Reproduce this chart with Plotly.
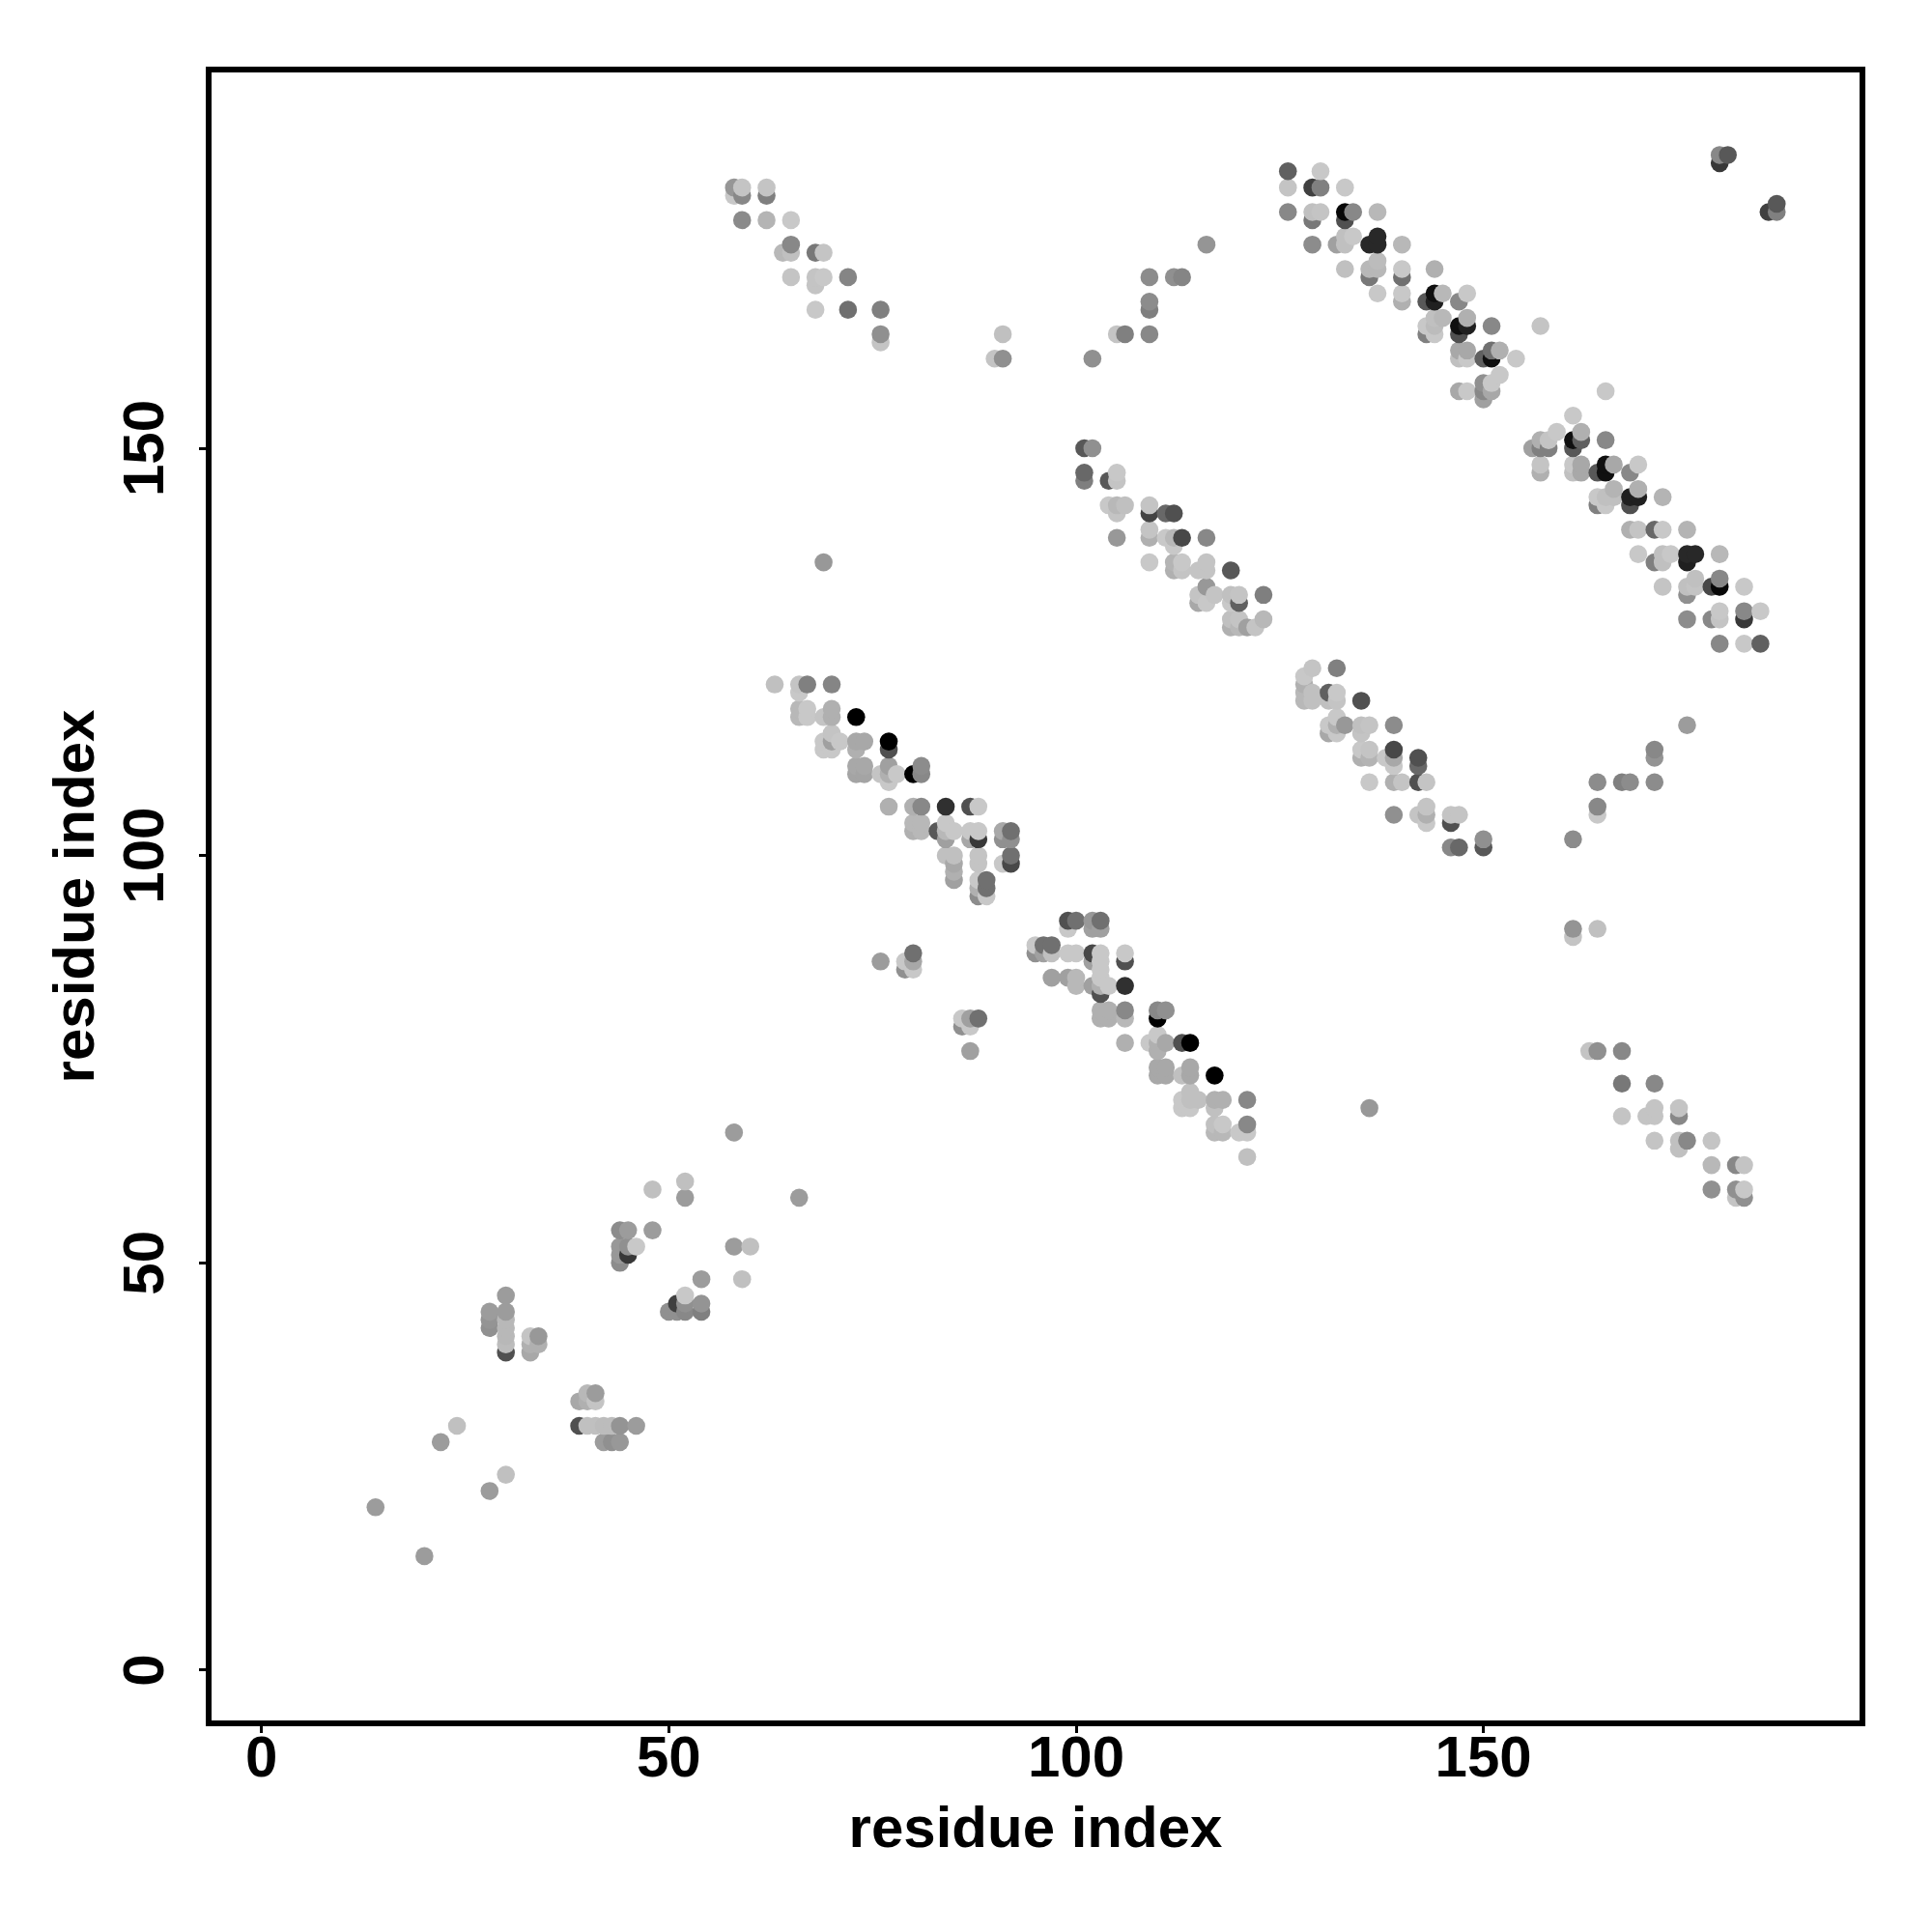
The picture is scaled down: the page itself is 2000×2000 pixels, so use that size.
import plotly.graph_objects as go

# (residue i, residue j, gray level)
low_diag = [(14,20,0x9c),(20,14,0x9c),(22,28,0x9c),(24,30,0xc0),(28,22,0x9c),(30,24,0xc0)]
col_30 = [(30,46,0x9c),(28,44,0x9c),(30,44,0x9c),(28,43,0x94),(30,43,0xb8),(28,42,0x90),(30,42,0xb8),
          (30,41,0xb8),(30,40,0xbc),(30,39,0x50),(33,41,0xc4),(34,41,0x98),(33,40,0xb0),(34,40,0xb0),(33,39,0xa8)]
row_30 = [(40,34,0xb8),(41,34,0x9c),(39,33,0xa8),(40,33,0xb0),(41,33,0xc4),(39,30,0x50),(40,30,0xc0),(41,30,0xc0),
          (42,30,0xbc),(43,30,0xbc),(44,30,0x94),(46,30,0x9c),(42,28,0x9c),(43,28,0x90),(44,28,0x98)]
col_44 = [(58,66,0x9c),(52,60,0xc0),(48,59,0xc0),(52,58,0x9c),(66,58,0x9c),(44,54,0x8c),(45,54,0x9c),(48,54,0x9c),
          (44,52,0x98),(45,52,0x90),(46,52,0xc8),(58,52,0x9c),(60,52,0xc0),(44,51,0x98),(45,51,0x38),(44,50,0x8c),
          (54,48,0x9c),(59,48,0xc0),(52,46,0xc8),(51,45,0x40),(54,45,0x94),(52,45,0x90),(50,44,0x90),(51,44,0x90),
          (52,44,0x88),(54,44,0x80)]
strand_a_top = [(58,181,0xc8),(58,182,0x96),(59,182,0xc4),(59,181,0x88),(62,182,0xc4),(62,181,0x7f),(59,178,0x8a),
                (62,178,0xb4),(65,178,0xc8),(65,175,0x88),(64,174,0xb8),(65,174,0xc0),(68,174,0x78),(69,174,0xc4),
                (65,171,0xc4),(68,171,0xc4),(69,171,0xc8),(72,171,0x85),(68,170,0xc4),(68,167,0xc8),(72,167,0x70),
                (76,167,0x80),(76,164,0x90),(76,163,0xc4)]
isolated_mid = [(91,164,0xc0),(90,161,0xc4),(91,161,0x90),(116,175,0x95),(109,171,0x8c),(112,171,0x90),(113,171,0x85),
                (109,168,0x8c),(109,167,0x7f),(105,164,0xc4),(106,164,0x80),(109,164,0x88),(102,161,0x90),(69,136,0x98),
                (136,69,0x98)]
strand_b_top = [(101,150,0x58),(102,150,0x90),(101,147,0x68),(101,146,0x7f),(104,146,0x58),(105,146,0xc4),(105,147,0xc8),
                (104,143,0xc8),(105,143,0xb8),(106,143,0xc0),(105,142,0xc4),(109,143,0xc4),(109,142,0x44),(111,142,0x68),
                (112,142,0x50),(105,139,0x98),(109,139,0xb0),(109,140,0xc4),(111,139,0xc8),(112,139,0xb8),(113,139,0x48),
                (116,139,0x88),(112,138,0xc8),(109,136,0xc8),(112,136,0xb4),(113,136,0xc8),(116,136,0xc4),(112,135,0xb0),
                (113,135,0xc4),(115,135,0xc4),(116,135,0xc4),(119,135,0x58),(115,132,0xc4),(117,132,0xc4),(119,132,0xc0),
                (120,132,0xc4),(123,132,0x7f),(116,133,0x98),(115,131,0xa8),(116,131,0xc8),(119,131,0xc8),(120,131,0x60),
                (119,129,0xc0),(120,129,0xc4),(123,129,0xb8),(119,128,0xb0),(120,128,0xb8),(121,128,0xa0),(122,128,0xc4)]
strand_a_mid = [(63,121,0xc0),(66,121,0xc4),(67,121,0x80),(70,121,0x85),(66,120,0xc8),(66,118,0xb8),(67,118,0xc8),
                (70,118,0xb0),(66,117,0xb8),(67,117,0xc8),(69,117,0xc4),(70,117,0xb0),(73,117,0x00),(70,115,0xc4),
                (69,114,0xc8),(70,114,0xa0),(71,114,0xc8),(73,114,0xa8),(74,114,0xa8),(77,114,0x00),(69,113,0xc8),
                (70,113,0xc8),(73,113,0xb0),(77,113,0x50),(73,111,0xa8),(74,111,0xa8),(77,111,0xa0),(81,111,0x8c),
                (73,110,0xa4),(74,110,0xa4),(76,110,0xc4),(77,110,0xb0),(78,110,0xc8),(80,110,0x00),(81,110,0x88),
                (77,109,0xc8),(77,106,0xb0),(80,106,0xb0),(81,106,0x88),(84,106,0x30),(87,106,0x50),(88,106,0xc8),
                (80,104,0xb8),(81,104,0xb8),(84,104,0xc8),(80,103,0xb0),(81,103,0xb8),(83,103,0x58),(84,103,0xb8),
                (85,103,0xc8),(87,103,0xc8),(88,103,0xc8),(91,103,0xa8),(92,103,0x70),(84,102,0xa0),(87,102,0xa8),
                (88,102,0x38),(91,102,0x90),(92,102,0x90),(84,100,0xc0),(85,100,0xc0),(88,100,0xc4),(92,100,0x70),
                (85,99,0xa8),(88,99,0xc4),(91,99,0xc8),(92,99,0x48),(85,98,0xb0),(85,97,0xa0),(88,97,0xc8),(89,97,0x70),
                (88,96,0xb0),(89,96,0x70),(88,95,0x8c),(89,95,0xc8)]
strand_b_low = [(99,92,0x50),(100,92,0x70),(102,92,0x98),(103,92,0x70),(99,91,0xc8),(102,91,0xa0),(103,91,0xa0),
                (95,89,0xc8),(96,89,0x70),(97,89,0x70),(95,88,0x90),(96,88,0xa0),(97,88,0xc0),(99,88,0xc8),(100,88,0xc8),
                (102,88,0x48),(103,88,0xc8),(106,88,0xc8),(102,87,0xa0),(103,87,0xc8),(106,87,0x50),(103,86,0xc8),
                (97,85,0xa0),(99,85,0xa0),(100,85,0xb8),(103,85,0xc8),(100,84,0xb8),(102,84,0xa0),(103,84,0xb0),
                (104,84,0xc8),(106,84,0x30),(103,83,0x50),(103,81,0xb0),(104,81,0xb0),(106,81,0x88),(110,81,0x88),
                (111,81,0x90),(103,80,0xb0),(104,80,0xb0),(106,80,0xb8),(110,80,0x00),(106,77,0xb0),(109,77,0xc8),
                (110,77,0xb0),(111,77,0xa8),(113,77,0x50),(114,77,0x00),(110,78,0xc8),(110,76,0xb0),(110,74,0xa8),
                (111,74,0xa8),(114,74,0xa8),(110,73,0xa8),(111,73,0xa8),(113,73,0xc0),(114,73,0xa8),(117,73,0x00),
                (114,71,0xc0),(113,70,0xc8),(114,70,0xc0),(115,70,0xc0),(117,70,0xb0),(118,70,0xb0),(121,70,0x88),
                (113,69,0xc8),(114,69,0xc8),(117,69,0xc0),(117,67,0xc0),(118,67,0xc8),(121,67,0x88),(117,66,0xb8),
                (118,66,0xb8),(120,66,0xc8),(121,66,0xc8),(121,63,0xc0)]
off_diag_low = [(76,87,0x9c),(80,88,0x70),(79,87,0xc8),(80,87,0xa8),(79,86,0x90),(80,86,0xc8),(86,80,0xc8),(87,80,0xa0),
                (88,80,0x70),(86,79,0x90),(87,79,0xc8),(87,76,0xa0)]
strand_c_top = [(126,184,0x60),(130,184,0xc8),(126,182,0xc4),(129,182,0x40),(130,182,0x80),(133,182,0xc8),(126,179,0x88),
                (129,179,0xc0),(130,179,0xc4),(133,179,0x08),(134,179,0x88),(137,179,0xb8),(129,178,0x78),(133,178,0x50),
                (129,175,0x8c),(132,175,0xa0),(133,175,0xc0),(134,176,0xc8),(133,176,0xc0),(136,175,0x28),(137,176,0x28),
                (137,175,0x28),(140,175,0xb8),(133,172,0xc0),(136,172,0xb8),(137,173,0xbc),(137,172,0xb8),(136,171,0x78),
                (140,172,0xc8),(140,171,0x70),(144,172,0xb0),(137,169,0xc8),(140,169,0xc8),(140,168,0xb0),(144,169,0x10),
                (145,169,0xb8),(148,169,0xc8),(143,168,0x58),(144,168,0x20),(147,168,0x88),(144,166,0xc0),(145,166,0xb8),
                (148,166,0xb0),(143,165,0xc8),(144,165,0xbc),(147,165,0x10),(148,165,0x20),(151,165,0x88),(157,165,0xc4),
                (143,164,0x80),(144,164,0xc8),(147,164,0x50),(147,162,0xa8),(148,162,0xa8),(151,162,0x70),(152,162,0xb0),
                (147,161,0xc0),(148,161,0xc8),(150,161,0x60),(151,161,0x10),(154,161,0xc8),(152,159,0xc8),(151,158,0xc8),
                (147,157,0xa8),(148,157,0xc8),(150,158,0x90),(150,157,0x88),(151,157,0xa8),(150,156,0xa0)]
strand_d_top = [(165,157,0xc8),(161,154,0xc8),(159,152,0xc8),(162,152,0xb0),(157,151,0xb0),(158,151,0xc4),(161,151,0x10),
                (162,151,0x60),(165,151,0x88),(156,150,0xa0),(157,150,0x80),(158,150,0x80),(161,150,0x58),(157,148,0xc4),
                (157,147,0xb0),(161,148,0xc8),(162,148,0xa8),(161,147,0xc0),(162,147,0xa8),(164,147,0x58),(165,148,0x10),
                (165,147,0x10),(166,148,0xa8),(169,148,0xc8),(168,147,0x88),(166,145,0xb4),(164,144,0xc8),(165,144,0xc0),
                (166,144,0xc0),(164,143,0x80),(165,143,0xc8),(169,145,0xb0),(168,144,0x20),(169,144,0x20),(168,143,0x50),
                (172,144,0xb4),(168,140,0xb0),(169,140,0xc4),(171,140,0x68),(172,140,0xc8),(175,140,0xb4),(169,137,0xc8),
                (172,137,0xc0),(173,137,0xc8),(171,136,0x80),(172,136,0xc0),(175,137,0x28),(176,137,0x28),(175,136,0x20),
                (179,137,0xb8),(176,134,0xc0),(179,134,0x88),(172,133,0xc4),(175,133,0xc0),(176,133,0xc4),(178,133,0x48),
                (179,133,0x08),(182,133,0xc8),(175,132,0x90),(175,129,0x8c),(178,129,0x88),(179,130,0xc8),(179,129,0xc4),
                (182,130,0x88),(182,129,0x38),(184,130,0xc8),(179,126,0x88),(182,126,0xc8),(184,126,0x60)]
corner = [(179,186,0x88),(180,186,0x58),(179,185,0x38),(185,179,0x40),(186,179,0x80),(186,180,0x58)]
strand_c_mid = [(129,123,0xc4),(132,123,0x80),(128,122,0xc8),(128,121,0xb0),(128,120,0xb8),(129,120,0xc0),(131,120,0x60),
                (132,120,0xc8),(128,119,0xb8),(129,119,0xc0),(131,119,0xc0),(132,119,0xc4),(135,119,0x50),(132,117,0xc8),
                (131,116,0xc8),(132,116,0xb0),(133,116,0x98),(135,116,0xc0),(136,116,0xc4),(139,116,0x8c),(131,115,0xa8),
                (132,115,0xc8),(135,115,0xc4),(135,113,0xc8),(136,113,0xc4),(139,113,0x48),(135,112,0xb0),(136,112,0xb4),
                (138,112,0xc8),(139,112,0xa8),(142,112,0x50),(139,111,0xc8),(142,111,0x68),(136,109,0xc8),(139,109,0xb0),
                (140,109,0xc4),(142,109,0x50),(143,109,0xc4),(139,105,0x90),(142,105,0xc4),(143,106,0xc4),(143,105,0xb0),
                (143,104,0xc8),(146,105,0xc4),(147,105,0xc4),(146,104,0x50),(146,101,0x88),(147,101,0x68),(150,102,0x90),
                (150,101,0x58)]
right_mid = [(161,102,0x8c),(164,106,0x88),(164,105,0xc8),(164,109,0x8c),(167,109,0x80),(168,109,0x8c),(171,113,0x88),
             (171,112,0x94),(171,109,0x8c),(175,116,0x9c)]
right_low = [(161,91,0x94),(161,90,0xc4),(164,91,0xc0),(163,76,0xc4),(164,76,0x90),(167,76,0x88),(167,72,0x78),(171,72,0x88),
             (167,68,0xc4),(170,68,0xc4),(171,68,0xc4),(171,69,0xc4),(174,69,0xc4),(174,68,0x88),(171,65,0xc4),(174,65,0xc0),
             (175,65,0x88),(178,65,0xc4),(174,64,0xc0),(178,62,0xb8),(181,62,0x88),(182,62,0xc4),(178,59,0x90),(181,59,0x90),
             (182,59,0xc8),(181,58,0xc4),(182,58,0x90)]

tick_values = [0, 50, 100, 150]
axis_title = "residue index"

contacts = sorted(low_diag + col_30 + row_30 + col_44 + strand_a_top + isolated_mid + strand_b_top + strand_a_mid
                  + strand_b_low + off_diag_low + strand_c_top + strand_d_top + corner + strand_c_mid + right_mid
                  + right_low, key=lambda c: (c[0], c[1]))

fig = go.Figure(go.Scatter(
    x=[c[0] for c in contacts],
    y=[c[1] for c in contacts],
    mode="markers",
    marker=dict(size=18.6, color=[f"rgb({c[2]},{c[2]},{c[2]})" for c in contacts], line=dict(width=0)),
    showlegend=False,
))

font = dict(family="Liberation Sans", size=60, color="black", weight="bold")
axis = dict(
    showgrid=False, zeroline=False, showline=True, linewidth=6, linecolor="black", mirror=True,
    ticks="outside", ticklen=7, tickwidth=3, tickcolor="black",
    tickmode="array", tickvals=tick_values, ticktext=[str(v) for v in tick_values], tickfont=font,
)
fig.update_layout(
    width=2000, height=2000, autosize=False,
    margin=dict(l=219, r=75, t=75, b=219),
    paper_bgcolor="white", plot_bgcolor="white",
    xaxis=dict(axis, range=[-6.13, 196.17], ticklabelstandoff=-27,
               title=dict(text=axis_title, font=font, standoff=21)),
    yaxis=dict(axis, range=[-6.17, 196.13], tickangle=-90, ticklabelstandoff=13, ticklabelshift=9,
               title=dict(text=axis_title, font=font, standoff=0)),
)
fig.write_html("out.html", post_script="document.body.style.margin='0';", config={"displayModeBar": False})
